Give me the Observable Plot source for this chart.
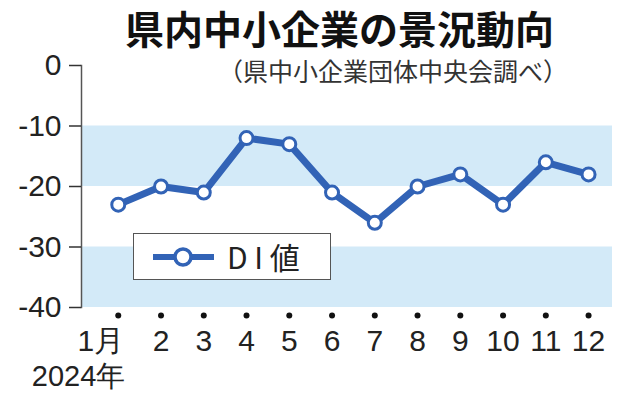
<!DOCTYPE html>
<html>
<head>
<meta charset="utf-8">
<script src="https://cdn.jsdelivr.net/npm/d3@7"></script>
<script src="https://cdn.jsdelivr.net/npm/@observablehq/plot@0.6"></script>
<style>
  html, body { margin: 0; padding: 0; background: #fff; }
  #wrap { position: relative; width: 634px; height: 400px; overflow: hidden; }
  #title { position: absolute; left: 125px; top: 3px; font-family: "Noto Sans CJK JP", sans-serif; font-weight: 700; font-size: 39px; line-height: 1.25; color: #111; white-space: nowrap; }
  #subtitle { position: absolute; left: 218px; top: 55px; font-family: "Noto Sans CJK JP", sans-serif; font-weight: 400; font-size: 25px; line-height: 1.25; color: #333; white-space: nowrap; }
  #legend { position: absolute; left: 133px; top: 233px; width: 196px; height: 45px; border: 1.5px solid #555; background: #fff; box-sizing: content-box; }
  #legend svg { position: absolute; left: 0; top: 0; }
  #legend span { position: absolute; left: 93px; top: 4px; font-family: "Noto Sans CJK JP", sans-serif; font-size: 30px; line-height: 1.2; color: #222; white-space: nowrap; }
  #plot { position: absolute; left: 0; top: 0; }
</style>
</head>
<body>
<div id="wrap">
  <div id="plot"></div>
  <div id="title">県内中小企業の景況動向</div>
  <div id="subtitle">（県中小企業団体中央会調べ）</div>
  <div id="legend"></div>
</div>
<script>
const months = [1, 2, 3, 4, 5, 6, 7, 8, 9, 10, 11, 12];
const diValues = [-23, -20, -21, -12, -13, -21, -26, -20, -18, -23, -16, -18];
const monthLabels = ["1月", "2", "3", "4", "5", "6", "7", "8", "9", "10", "11", "12"];
const yearLabel = "2024年";
const yTicks = [0, -10, -20, -30, -40];
const bandLow = [-20, -40];
const bandHigh = [-10, -30];
const seriesName = "D I 値";

const lineColor = "#3263b6";
const bandColor = "#d3eaf8";

const data = months.map((m, i) => ({month: m, di: diValues[i]}));
const bands = bandLow.map((lo, i) => ({y1: lo, y2: bandHigh[i]}));
const labels = months.map((m, i) => ({month: m, label: monthLabels[i]}));

const chart = Plot.plot({
  width: 634,
  height: 400,
  marginLeft: 81,
  marginRight: 22,
  marginTop: 65,
  marginBottom: 93,
  style: {fontFamily: "'Liberation Sans', Arial, sans-serif", background: "transparent", overflow: "visible"},
  x: {type: "linear", domain: [0.14, 12.56], axis: null},
  y: {domain: [-40, 0], axis: null},
  marks: [
    Plot.rect(bands, {y1: "y1", y2: "y2", fill: bandColor}),
    Plot.frame({anchor: "left", stroke: "#555", strokeWidth: 1.5}),
    Plot.axisY(yTicks, {
      anchor: "left",
      tickSize: 12,
      tickPadding: 8,
      fontSize: 30,
      fill: "#222",
      stroke: "#333",
      strokeWidth: 1.5,
      tickFormat: d => d === 0 ? "0" : "-" + Math.abs(d)
    }),
    Plot.line(data, {x: "month", y: "di", stroke: lineColor, strokeWidth: 7, strokeLinejoin: "round"}),
    Plot.dot(data, {x: "month", y: "di", r: 6.5, fill: "white", stroke: lineColor, strokeWidth: 3}),
    Plot.dot(months, {x: d => d, frameAnchor: "bottom", dy: 8, r: 3, fill: "#111", stroke: null}),
    Plot.text(labels.filter(d => d.month !== 1), {x: "month", text: "label", frameAnchor: "bottom", dy: 34, fontSize: 30, fill: "#222", lineAnchor: "middle"}),
    Plot.text(labels.filter(d => d.month === 1), {x: "month", text: "label", frameAnchor: "bottom", dy: 34, dx: 6, textAnchor: "end", fontSize: 30, fill: "#222", lineAnchor: "middle"}),
    Plot.text([yearLabel], {x: months[0], text: d => d, frameAnchor: "bottom", dy: 69, dx: 7, textAnchor: "end", fontSize: 29, fill: "#222", lineAnchor: "middle"})
  ]
});
document.getElementById("plot").appendChild(chart);

// legend swatch
const lg = document.getElementById("legend");
lg.innerHTML = `<svg width="196" height="45">
  <line x1="19" y1="23" x2="80" y2="23" stroke="${lineColor}" stroke-width="6"/>
  <circle cx="49" cy="23" r="8" fill="white" stroke="${lineColor}" stroke-width="3.5"/>
</svg><span>${seriesName}</span>`;
</script>
</body>
</html>
